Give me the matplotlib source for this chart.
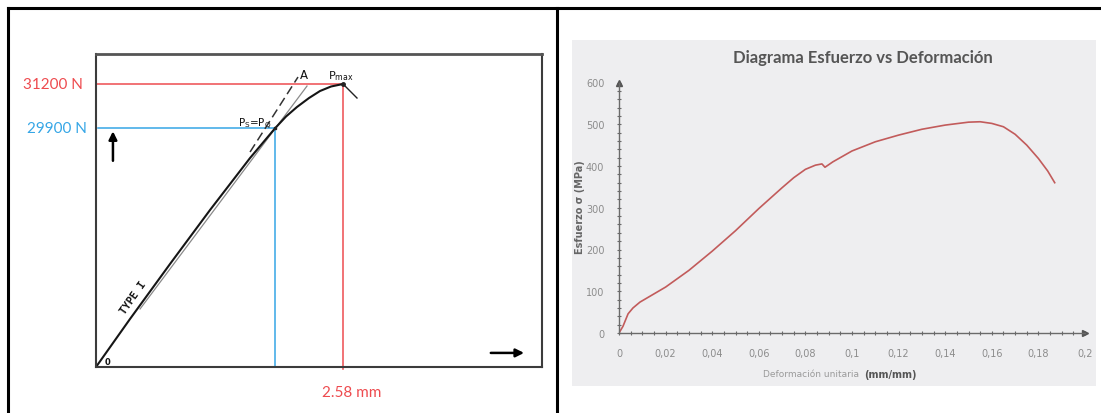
import numpy as np
import matplotlib
matplotlib.use("Agg")
import matplotlib.pyplot as plt
from matplotlib.lines import Line2D
from matplotlib.patches import Rectangle
from matplotlib.ticker import MultipleLocator

# Panneau gauche : diagramme schematique charge / allongement
disp_mm = [0.0, 0.355, 0.773, 1.191, 1.609, 1.870, 1.985, 2.099, 2.225, 2.340, 2.455, 2.580]
load_N = [22840, 24258, 25883, 27478, 29014, 29891, 30240, 30520, 30786, 30993, 31126, 31200]
drop_mm = [2.580, 2.726]
drop_N = [31200, 30786]
offset_mm = [0.46, 2.204]
offset_N = [24554, 31140]
dash_mm = [1.609, 2.110]
dash_N = [29191, 31406]
P_max = 31200
P_Q = 29900
d_max = 2.58
d_Q = 1.87

# Panneau droit : esfuerzo vs deformacion
strain = [0, 0.0017, 0.0039, 0.006, 0.009, 0.0145, 0.02, 0.03, 0.04, 0.05,
          0.06, 0.07, 0.075, 0.08, 0.0843, 0.0871, 0.0884, 0.0918, 0.1, 0.11,
          0.12, 0.13, 0.14, 0.15, 0.155, 0.16, 0.165, 0.17, 0.175, 0.18, 0.184, 0.187]
stress = [0, 16, 46, 60, 74, 92, 110, 150, 196, 245,
          298, 348, 372, 392, 402, 405, 397, 410, 436, 458,
          474, 488, 498, 505, 506, 502, 494, 476, 450, 418, 388, 360]
x_ticks = [0, 0.02, 0.04, 0.06, 0.08, 0.1, 0.12, 0.14, 0.16, 0.18, 0.2]
x_tick_labels = ["0", "0,02", "0,04", "0,06", "0,08", "0,1", "0,12", "0,14", "0,16", "0,18", "0,2"]
y_ticks = [0, 100, 200, 300, 400, 500, 600]

W, H = 1101, 414
def fx(px):
    return px / W
def fy(py):
    return 1 - py / H

red = "#ee4b4f"
blue = "#35a6e6"
lab_font = ["Lato", "DejaVu Sans"]

fig = plt.figure(figsize=(W / 100, H / 100), dpi=100)

# fond gris de l'image scannee
fig.patches.append(Rectangle((fx(572), fy(387)), (1096 - 572) / W, (387 - 41) / H,
                             transform=fig.transFigure, facecolor="#eeeef0",
                             edgecolor="none", zorder=-5))

# bordures du tableau
for xs, ys in [([fx(8), 1], [fy(9), fy(9)]),
               ([fx(8), fx(8)], [fy(9), 0]),
               ([fx(557), fx(557)], [fy(9), 0])]:
    fig.add_artist(Line2D(xs, ys, color="black", lw=2.2))

# ---- panneau gauche ----
ax1 = fig.add_axes([fx(96), fy(368), (542 - 96) / W, (368 - 55) / H])
y0 = 22840
ax1.set_xlim(0, 446 / 95.74)
ax1.set_ylim(y0, y0 + 313 * 29.54)
ax1.set_xticks([])
ax1.set_yticks([])
for s in ax1.spines.values():
    s.set_color("#3c3c3c")
    s.set_linewidth(1.5)
ax1.spines["top"].set_color("#555555")
ax1.spines["top"].set_linewidth(2)

ax1.plot([0, d_max], [P_max, P_max], color=red, lw=1.1)
ax1.plot([d_max, d_max], [y0 - 60, P_max], color=red, lw=1.1, clip_on=False)
ax1.plot([0.02, d_Q], [P_Q, P_Q], color=blue, lw=1.1)
ax1.plot([d_Q, d_Q], [y0, P_Q], color=blue, lw=1.1)

ax1.plot(offset_mm, offset_N, color="#8a8a8a", lw=0.9)
ax1.plot(dash_mm, dash_N, color="#333333", lw=1.1, dashes=(6, 3))
ax1.plot(disp_mm, load_N, color="#151515", lw=1.5)
ax1.plot(drop_mm, drop_N, color="#222222", lw=1.0)
ax1.plot([d_max], [P_max], "o", ms=2.5, color="#222222")
ax1.plot([d_Q], [P_Q], "s", ms=2, color="#222222")

ax1.text(-0.029, P_max, "31200 N", transform=ax1.get_yaxis_transform(), ha="right",
         va="center", color=red, fontsize=11, family=lab_font)
ax1.text(-0.020, P_Q, "29900 N", transform=ax1.get_yaxis_transform(), ha="right",
         va="center", color=blue, fontsize=11, family=lab_font)
ax1.text(2.674, -0.08, "2.58 mm", transform=ax1.get_xaxis_transform(), ha="center",
         va="center", color=red, fontsize=11, family=lab_font)

ax1.text(2.173, 31495, "A", ha="center", va="center", fontsize=8.5, color="#111")
ax1.text(2.559, 31466, r"P$_\mathregular{max}$", ha="center", va="center", fontsize=8, color="#111")
ax1.text(1.66, 30030, r"P$_\mathregular{S}$=P$_\mathregular{Q}$", ha="center", va="center",
         fontsize=7.5, color="#111")
ax1.text(0.386, 24908, "TYPE I", rotation=55, rotation_mode="anchor", ha="center", va="center",
         fontsize=7.5, fontweight="bold", family="DejaVu Sans Mono", color="#111")
ax1.text(0.125, 23017, "0", ha="center", va="center", fontsize=6, fontweight="bold", color="#111")

ax1.annotate("", xy=(0.038, 0.762), xytext=(0.038, 0.650), xycoords="axes fraction",
             arrowprops=dict(arrowstyle="-|>", color="black", lw=1.8, mutation_scale=12))
ax1.annotate("", xy=(0.966, 0.045), xytext=(0.879, 0.045), xycoords="axes fraction",
             arrowprops=dict(arrowstyle="-|>", color="black", lw=1.8, mutation_scale=12))

# ---- panneau droit (image scannee) ----
ax2 = fig.add_axes([fx(619), fy(334), (1085 - 619) / W, (334 - 83.5) / H])
ax2.patch.set_alpha(0)
ax2.plot(strain, stress, color="#c25b5b", lw=1.2)
ax2.set_xlim(0, 0.2)
ax2.set_ylim(0, 600)
ax2.set_xticks(x_ticks, labels=x_tick_labels)
ax2.set_yticks(y_ticks)
ax2.xaxis.set_minor_locator(MultipleLocator(0.005))
ax2.yaxis.set_minor_locator(MultipleLocator(20))
ax2.tick_params(which="both", direction="inout", length=3, width=0.8, color="#6a6a6a",
                labelcolor="#8c8c8c", labelsize=7)
ax2.tick_params(axis="x", pad=9)
ax2.tick_params(axis="y", pad=9)
for side in ["top", "right"]:
    ax2.spines[side].set_visible(False)
for side in ["left", "bottom"]:
    ax2.spines[side].set_color("#6a6a6a")
    ax2.spines[side].set_linewidth(1.0)
ax2.plot(0, 1, marker="^", ms=5, color="#555555", transform=ax2.transAxes, clip_on=False)
ax2.plot(1, 0, marker=">", ms=5, color="#555555", transform=ax2.transAxes, clip_on=False)

fig.text(fx(863), fy(58), "Diagrama Esfuerzo vs Deformación", ha="center", va="center",
         fontsize=12, fontweight="bold", color="#555555", family=["Lato", "DejaVu Sans"])
fig.text(fx(580), fy(207), "Esfuerzo σ (MPa)", rotation=90, ha="center", va="center",
         fontsize=7, fontweight="bold", color="#666666")
fig.text(fx(862), fy(375), "Deformación unitaria ", ha="right", va="center",
         fontsize=6.5, color="#9a9a9a")
fig.text(fx(864), fy(375), "(mm/mm)", ha="left", va="center",
         fontsize=7, fontweight="bold", color="#555555")

plt.savefig("out.png", dpi=100)
